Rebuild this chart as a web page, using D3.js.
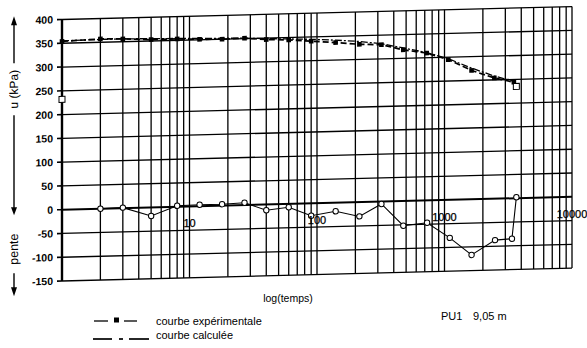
<!DOCTYPE html>
<html><head><meta charset="utf-8">
<script src="https://cdn.jsdelivr.net/npm/d3@7"></script>
<style>body{margin:0;background:#fff} svg{display:block}</style>
</head><body>
<svg id="c" width="587" height="348"></svg>
<script>
// ---- data ----
const timesU   = [1,2,3,5,8,12,18,27,40,60,90,140,215,320,475,725,1070,1630,2460,3500];
const uExp     = [354,357,356,353,353,351,350,351,347,345,341,337,332,330,318,310,295,271,254,244];
const uCalc    = [355,356,356,355,354,353,352,351,349,347,345,342,338,332,322,311,297,276,258,246];
const timesP   = [2,3,5,8,12,18,27,40,60,90,140,215,320,475,730,1100,1630,2490,3380,3660];
const pente    = [0,1,-18,2,3,3,5,-12,-7,-26,-18,-30,-5,-52,-47,-80,-117,-87,-85,2];
const openT    = [1,3660];
const openU    = [232,235];
const yTicks   = [400,350,300,250,200,150,100,50,0,-50,-100,-150];
const decades  = [10,100,1000,10000];
const xLabel   = "log(temps)";
const legendNames = ["courbe expérimentale","courbe calculée"];
const caption  = ["PU1","9,05 m"];

// ---- layout ----
const svg = d3.select("#c");
const L = 62, R = 572, T = 19.5, B = 281;
const x = d3.scaleLog().domain([1,10000]).range([L,R]);
const y = d3.scaleLinear().domain([-150,400]).range([B,T]);
const font = "'Liberation Sans', Arial, sans-serif";
const skewDeg = -1.45, shear = Math.tan(skewDeg*Math.PI/180);

const g = svg.append("g").attr("transform", `translate(${L},0) skewY(${skewDeg}) translate(${-L},0)`);

// vertical grid (log minor + decades)
const vlines = [];
for (let d = 1; d <= 1000; d *= 10) for (let m = 1; m <= 9; m++) vlines.push(d*m);
vlines.push(10000);
g.append("g").selectAll("line").data(vlines).join("line")
  .attr("x1", d=>x(d)).attr("x2", d=>x(d)).attr("y1", T).attr("y2", B)
  .attr("stroke", "#000").attr("stroke-width", 1.3);

// horizontal grid
g.append("g").selectAll("line").data(yTicks).join("line")
  .attr("x1", L).attr("x2", R).attr("y1", d=>y(d)).attr("y2", d=>y(d))
  .attr("stroke", "#000").attr("stroke-width", d => d===0 ? 2 : 1.3);

// left axis thick
g.append("line").attr("x1",L).attr("x2",L).attr("y1",T).attr("y2",B).attr("stroke","#000").attr("stroke-width",2.4);

// y ticks + labels
const yt = g.append("g");
yt.selectAll("line").data(yTicks).join("line")
  .attr("x1", L-5).attr("x2", L).attr("y1", d=>y(d)).attr("y2", d=>y(d)).attr("stroke","#000").attr("stroke-width",1.6);
yt.selectAll("text").data(yTicks).join("text")
  .attr("x", L-9).attr("y", d=>y(d)).attr("dy","0.35em").attr("text-anchor","end").attr("fill","#000")
  .attr("font-family", font).attr("font-size", 10.5).attr("font-weight","bold").text(d=>d);

// calculated curve (dash-dot)
const lineU = d3.line().x((d,i)=>x(timesU[i])).y(d=>y(d));
g.append("path").attr("d", lineU(uCalc)).attr("fill","none").attr("stroke","#000")
  .attr("stroke-width",1.3).attr("stroke-dasharray","7,2,2,2");
// experimental curve (dashed + squares)
g.append("path").attr("d", lineU(uExp)).attr("fill","none").attr("stroke","#000")
  .attr("stroke-width",1.7).attr("stroke-dasharray","6,3");
g.append("g").selectAll("rect").data(uExp).join("rect")
  .attr("x",(d,i)=>x(timesU[i])-2.3).attr("y",d=>y(d)-2.3).attr("width",4.6).attr("height",4.6).attr("fill","#000");
// open squares
g.append("g").selectAll("rect").data(openU).join("rect")
  .attr("x",(d,i)=>x(openT[i])-3).attr("y",d=>y(d)-3).attr("width",6).attr("height",6)
  .attr("fill","#fff").attr("stroke","#000").attr("stroke-width",1);

// pente curve
const lineP = d3.line().x((d,i)=>x(timesP[i])).y(d=>y(d));
g.append("path").attr("d", lineP(pente)).attr("fill","none").attr("stroke","#000").attr("stroke-width",1.1);
g.append("g").selectAll("circle").data(pente).join("circle")
  .attr("cx",(d,i)=>x(timesP[i])).attr("cy",d=>y(d)).attr("r",2.7)
  .attr("fill","#fff").attr("stroke","#000").attr("stroke-width",1);

// left vertical title with arrows
const ax = 14;
const lt = g.append("g").attr("stroke","#000").attr("stroke-width",1.4);
lt.append("line").attr("x1",ax).attr("x2",ax).attr("y1",22).attr("y2",62);
lt.append("line").attr("x1",ax).attr("x2",ax).attr("y1",114).attr("y2",210);
lt.append("line").attr("x1",ax).attr("x2",ax).attr("y1",272).attr("y2",290);
g.append("path").attr("d",`M${ax-3},24 L${ax},15 L${ax+3},24 Z`).attr("fill","#000");
g.append("path").attr("d",`M${ax-3},206 L${ax},214 L${ax+3},206 Z`).attr("fill","#000");
g.append("path").attr("d",`M${ax-3},286 L${ax},295 L${ax+3},286 Z`).attr("fill","#000");
g.append("text").attr("transform",`translate(${ax+4},88) rotate(-90)`).attr("text-anchor","middle")
  .attr("font-family",font).attr("font-size",12).attr("fill","#000").text("u (kPa)");
g.append("text").attr("transform",`translate(${ax+4},248) rotate(-90)`).attr("text-anchor","middle")
  .attr("font-family",font).attr("font-size",12.5).attr("fill","#000").text("pente");

// decade labels (placed along the skewed zero line, text itself unskewed)
svg.append("g").selectAll("text").data(decades).join("text")
  .attr("x", d=>x(d)).attr("y", d=>y(-36) + shear*(x(d)-L)).attr("dy","0.35em").attr("text-anchor","middle")
  .attr("font-family", font).attr("font-size", 11).attr("fill","#000").attr("stroke","#000").attr("stroke-width",0.25)
  .text(d=>d);

// ---- texts below the plot (not skewed) ----
svg.append("text").attr("x",288).attr("y",302).attr("text-anchor","middle")
  .attr("font-family",font).attr("font-size",10.5).attr("fill","#000").text(xLabel);

const lg = svg.append("g");
lg.append("line").attr("x1",94).attr("x2",108).attr("y1",321).attr("y2",321).attr("stroke","#000").attr("stroke-width",1.3);
lg.append("rect").attr("x",114).attr("y",317.5).attr("width",5).attr("height",5).attr("fill","#000");
lg.append("line").attr("x1",124).attr("x2",137).attr("y1",321).attr("y2",321).attr("stroke","#000").attr("stroke-width",1.3);
lg.append("line").attr("x1",93).attr("x2",112).attr("y1",339).attr("y2",339).attr("stroke","#000").attr("stroke-width",1.7);
lg.append("line").attr("x1",119).attr("x2",123).attr("y1",339).attr("y2",339).attr("stroke","#000").attr("stroke-width",1.7);
lg.append("line").attr("x1",129).attr("x2",149).attr("y1",339).attr("y2",339).attr("stroke","#000").attr("stroke-width",1.7);
lg.selectAll("text").data(legendNames).join("text")
  .attr("x",156).attr("y",(d,i)=> i===0 ? 325 : 339).attr("font-family",font).attr("font-size",11).attr("fill","#000").text(d=>d);

svg.append("text").attr("x",441).attr("y",320).attr("font-family",font).attr("font-size",11).attr("fill","#000").text(caption[0]);
svg.append("text").attr("x",473).attr("y",320).attr("font-family",font).attr("font-size",11).attr("fill","#000").text(caption[1]);
</script>
</body></html>
